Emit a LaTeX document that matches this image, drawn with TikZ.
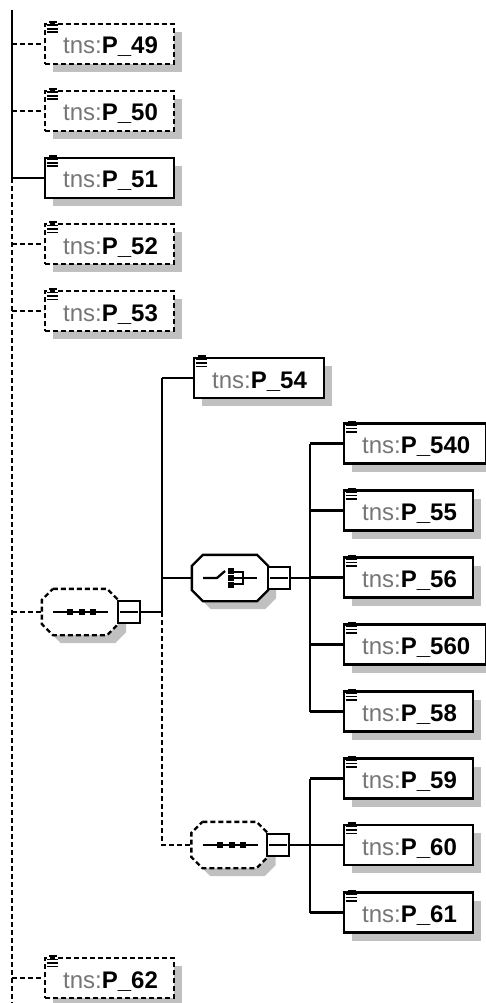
\documentclass[tikz,border=0pt]{standalone}
\usepackage{fontspec}
\setmainfont{Liberation Sans}
\usetikzlibrary{calc,shadows}
\definecolor{shadowgray}{HTML}{C0C0C0}
\definecolor{tnsgray}{HTML}{767676}
\newcommand\ptext[1]{{\fontsize{24}{28}\selectfont\textcolor{tnsgray}{tns:}\textbf{P\_#1}}}
\newcommand\octo[1]{($(#1.north west)+(11,0)$) -- ($(#1.north east)+(-11,0)$) -- ($(#1.north east)+(0,11)$) -- ($(#1.south east)+(0,-11)$) -- ($(#1.south east)+(-11,0)$) -- ($(#1.south west)+(11,0)$) -- ($(#1.south west)+(0,-11)$) -- ($(#1.north west)+(0,11)$) -- cycle}
\newcommand\docicon[1]{%
  \draw[line width=1.7pt,solid] ($(#1.north west)+(5,-1)$) -- ++(8,0);
  \foreach \dy in {2.5,6,9.5} \draw[line width=1.7pt,solid] ($(#1.north west)+(2.7,\dy)$) -- ++(11.6,0);
}
\newcommand\seqicon[1]{%
  \draw[solid] ($(#1)+(-27,0)$) -- ($(#1)+(28,0)$);
  \foreach \dx in {-10,2,13} \fill ($(#1)+(\dx-3,-3)$) rectangle ++(6,6);
}
\newcommand\minusline[1]{\draw[solid] ($(#1.west)+(3,0)$) -- ($(#1.east)+(-3,0)$);}
\begin{document}
\begin{tikzpicture}[x=1pt,y=-1pt,line width=2.3pt,
  dashed/.style={dash pattern=on 5pt off 3pt},
  elem/.style={draw, fill=white, minimum height=40pt, minimum width=129pt, inner sep=0pt, anchor=west,
    drop shadow={shadow xshift=8pt, shadow yshift=-8pt, fill=shadowgray, opacity=1}},
  wide/.style={minimum width=142pt},
  mid/.style={minimum width=130pt},
  lbl/.style={anchor=base west, inner sep=0pt},
  grp/.style={inner sep=0pt, minimum width=74pt, minimum height=44pt},
  mbox/.style={draw, fill=white, inner sep=0pt, minimum size=22pt, anchor=west},
]
\useasboundingbox (0,0) rectangle (486,1003);

% left column
\node[elem,dashed] (e49) at (44,44) {};
\node[elem,dashed] (e50) at (44,111) {};
\node[elem] (e51) at (44,178) {};
\node[elem,dashed] (e52) at (44,244) {};
\node[elem,dashed] (e53) at (44,311) {};
\node[elem,dashed] (e62) at (44,978) {};

% second column
\node[elem,mid] (e54) at (193,378) {};

% right column
\node[elem,wide] (e540) at (343,443.5) {};
\node[elem] (e55) at (343,510.5) {};
\node[elem] (e56) at (343,577.5) {};
\node[elem,wide] (e560) at (343,644.5) {};
\node[elem] (e58) at (343,711.5) {};
\node[elem] (e59) at (343,778.5) {};
\node[elem] (e60) at (343,845) {};
\node[elem] (e61) at (343,912.5) {};

\foreach \n in {49,50,51,52,53,62,54,540,55,56,560,58,59,60,61} {
  \node[lbl] (l\n) at ($(e\n.west)+(18,10)$) {\ptext{\n}};
  \docicon{e\n}
}

% sequence 1 (optional)
\node[grp] (seq1) at (80,612) {};
\fill[shadowgray, transform canvas={xshift=8pt,yshift=-8pt}] \octo{seq1};
\filldraw[fill=white, dashed] \octo{seq1};
\seqicon{seq1}
\node[mbox] (seq1m) at (117,612) {};
\minusline{seq1m}

% choice
\node[grp] (choice) at (230,578) {};
\fill[shadowgray, transform canvas={xshift=8pt,yshift=-8pt}] \octo{choice};
\filldraw[fill=white] \octo{choice};
\draw ($(choice)+(-27,0)$) -- ++(14,0) -- ++(8,-7);
\foreach \dy in {-7,0,7} \fill ($(choice)+(1-3,\dy-3)$) rectangle ++(6,6);
\draw ($(choice)+(1,-6)$) -- ++(12,0) -- ++(0,12) -- ++(-12,0);
\draw ($(choice)+(1,0)$) -- ++(26,0);
\node[mbox] (choicem) at (267,578) {};
\minusline{choicem}

% sequence 2 (optional)
\node[grp] (seq2) at (229.5,845) {};
\fill[shadowgray, transform canvas={xshift=8pt,yshift=-8pt}] \octo{seq2};
\filldraw[fill=white, dashed] \octo{seq2};
\seqicon{seq2}
\node[mbox] (seq2m) at (266,845) {};
\minusline{seq2m}

% main trunk
\coordinate (top) at (12,10);
\coordinate (bot) at (12,1003);
\draw (top) -- (e51.west -| top) -- (e51.west);
\draw[dashed] (e51.west -| top) -- (bot);
\foreach \n in {49,50,52,53,62} \draw[dashed] (e\n.west -| top) -- (e\n.west);
\draw[dashed] (seq1.west -| top) -- (seq1.west);

% second trunk
\coordinate (t2) at (162,612);
\draw (seq1m.east) -- (seq1m.east -| t2);
\draw (e54.west -| t2) -- (seq1m.east -| t2);
\draw (e54.west -| t2) -- (e54.west);
\draw (choice.west -| t2) -- (choice.west);
\draw[dashed] (seq1m.east -| t2) -- (seq2.west -| t2) -- (seq2.west);

% third trunk
\coordinate (t3) at (310,578);
\draw (choicem.east) -- (choicem.east -| t3);
\draw (e540.west -| t3) -- (e58.west -| t3);
\foreach \n in {540,55,56,560,58,59,60,61} \draw (e\n.west -| t3) -- (e\n.west);
\draw (seq2m.east) -- (seq2m.east -| t3);
\draw (e59.west -| t3) -- (e61.west -| t3);
\end{tikzpicture}
\end{document}
